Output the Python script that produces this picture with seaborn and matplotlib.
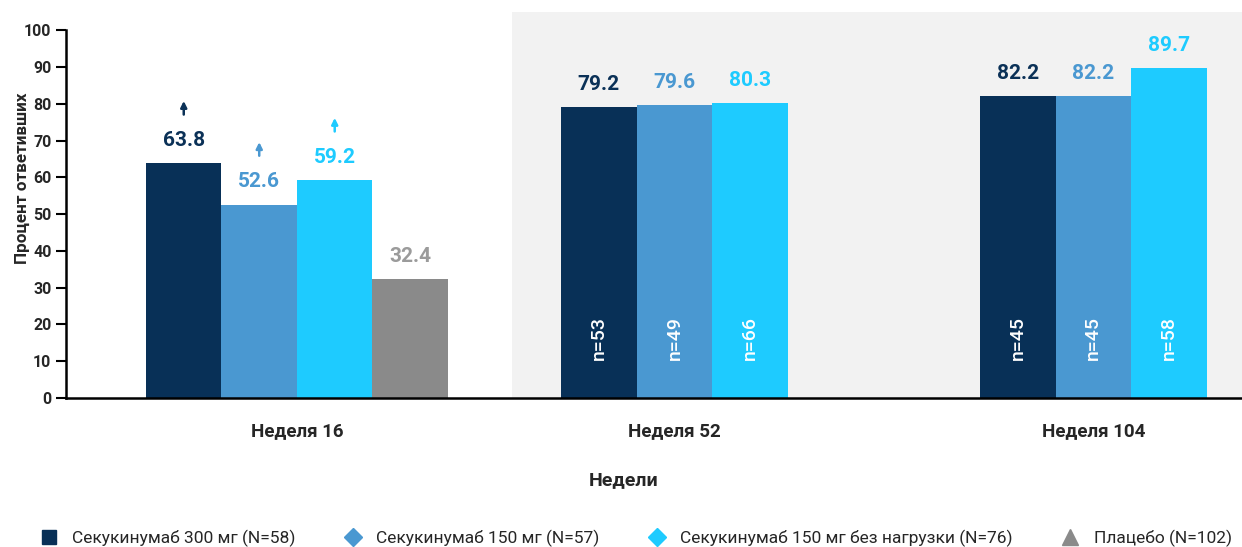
import matplotlib
matplotlib.use("Agg")
import matplotlib.pyplot as plt
from matplotlib.lines import Line2D
import seaborn as sns
import pandas as pd

# data
weeks = ["Неделя 16", "Неделя 52", "Неделя 104"]
series = [
    "Секукинумаб 300 мг (N=58)",
    "Секукинумаб 150 мг (N=57)",
    "Секукинумаб 150 мг без нагрузки (N=76)",
    "Плацебо (N=102)",
]
sec_300 = [63.8, 79.2, 82.2]
sec_150 = [52.6, 79.6, 82.2]
sec_150_nl = [59.2, 80.3, 89.7]
placebo = [32.4, None, None]
n_300 = [None, 53, 45]
n_150 = [None, 49, 45]
n_150_nl = [None, 66, 58]
n_placebo = [None, None, None]
significant = [True, True, True, False]  # arrow markers at week 16

colors = ["#083057", "#4a98d1", "#1ecbff", "#8a8a8a"]
label_colors = ["#0b3157", "#4a98d1", "#1ecbff", "#9b9b9b"]
markers = ["s", "D", "D", "^"]

# layout: group centres in units of bar width
group_centers = [0.0, 5.0, 10.55]

values = [sec_300, sec_150, sec_150_nl, placebo]
ns = [n_300, n_150, n_150_nl, n_placebo]

rows = []
for g, wk in enumerate(weeks):
    present = [s for s in range(len(series)) if values[s][g] is not None]
    for k, s in enumerate(present):
        pos = group_centers[g] + k - (len(present) - 1) / 2
        rows.append(dict(week=wk, series=series[s], value=values[s][g],
                         n=ns[s][g], pos=round(pos, 3), sidx=s, gidx=g))
df = pd.DataFrame(rows)

sns.set_style("white")
plt.rcParams["font.family"] = ["Roboto", "DejaVu Sans"]

fig = plt.figure(figsize=(12.42, 5.47), dpi=100)
ax = fig.add_axes([66 / 1242, 1 - 398 / 547, 1 - 66 / 1242, 386 / 547])

ax.axvspan(2.85, 13, color="#f2f2f2", zorder=0, lw=0)

sns.barplot(data=df, x="pos", y="value", hue="series", hue_order=series,
            palette=colors, saturation=1, native_scale=True, dodge=False,
            width=1.0, legend=False, ax=ax, zorder=2, edgecolor="none")

for _, r in df.iterrows():
    c = label_colors[r.sidx]
    ax.text(r.pos, r.value + 6.2, f"{r.value:.1f}", ha="center", va="center",
            fontsize=15, fontweight="bold", color=c, zorder=3)
    if r.gidx == 0 and significant[r.sidx]:
        ax.annotate("", xy=(r.pos, r.value + 17), xytext=(r.pos, r.value + 13.3),
                    arrowprops=dict(arrowstyle="-|>", color=c, lw=1.8,
                                    mutation_scale=9, shrinkA=0, shrinkB=0),
                    zorder=3)
    if pd.notna(r.n):
        ax.text(r.pos, 16.3, f"n={int(r.n)}", ha="center", va="center",
                rotation=90, fontsize=14, fontweight="medium", color="white",
                zorder=3)

ax.set_xlim(-3.06, 12.52)
ax.set_ylim(0, 105)
ax.set_yticks(range(0, 101, 10))
ax.set_xticks(group_centers)
ax.set_xticklabels(weeks)
ax.tick_params(axis="x", length=0, pad=17, labelsize=13.5)
ax.tick_params(axis="y", length=7, width=1.5, direction="out", labelsize=11.5,
               color="black", left=True)
for lab in ax.get_xticklabels() + ax.get_yticklabels():
    lab.set_fontweight("bold")

sns.despine(ax=ax, top=True, right=True)
ax.spines["left"].set_bounds(0, 100)
for sp in ["left", "bottom"]:
    ax.spines[sp].set_color("black")
    ax.spines[sp].set_linewidth(1.8)

ax.set_ylabel("Процент ответивших", fontsize=12.3, fontweight="bold")
ax.yaxis.set_label_coords(-0.031, 0.57)
ax.set_xlabel("Недели", fontsize=14, fontweight="bold")
ax.xaxis.set_label_coords((624 - 66) / 1176, -0.19)

handles = [Line2D([], [], linestyle="none", marker=m, color=c, markersize=ms)
           for m, c, ms in zip(markers, colors, [10, 9, 9, 11])]
fig.legend(handles, series, loc="center", bbox_to_anchor=(0.512, 1 - 538 / 547),
           ncol=4, frameon=False, fontsize=12.5, columnspacing=2.8,
           handletextpad=0.85, handlelength=1.0)

fig.savefig("out.png", dpi=100)
